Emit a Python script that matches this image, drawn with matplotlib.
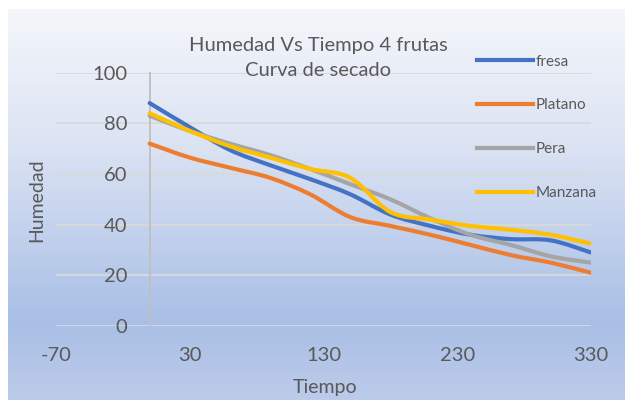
import numpy as np
import matplotlib.pyplot as plt
from matplotlib.path import Path
from matplotlib.patches import PathPatch
from matplotlib.lines import Line2D
from matplotlib.colors import LinearSegmentedColormap

plt.rcParams['font.family'] = ['Lato', 'DejaVu Sans']
plt.rcParams['axes.unicode_minus'] = False

# datos
tiempo = [0, 30, 60, 90, 120, 150, 180, 210, 240, 270, 300, 330]
fresa = [88, 78.5, 69.5, 63.5, 58, 52, 44, 39.5, 36, 34.3, 33.8, 29]
platano = [72, 66.5, 62.5, 58.5, 52, 43, 39.5, 36, 32, 28, 25, 21]
pera = [83, 77, 72, 67.5, 62, 56, 50, 42.5, 36, 32, 27.5, 25]
manzana = [84, 77, 71, 66.5, 62, 58.5, 45, 42, 39.5, 38, 36, 32.5]

series = ['fresa', 'Platano', 'Pera', 'Manzana']
colores = ['#4472C4', '#ED7D31', '#A5A5A5', '#FFC000']
gris = '#595959'


def curva(x, y):
    # suavizado tipo excel (catmull-rom a bezier)
    pts = np.column_stack([x, y]).astype(float)
    ext = np.vstack([pts[0], pts, pts[-1]])
    verts = [pts[0]]
    codes = [Path.MOVETO]
    for i in range(len(pts) - 1):
        p0, p1, p2, p3 = ext[i], ext[i + 1], ext[i + 2], ext[i + 3]
        verts += [p1 + (p2 - p0) / 6, p2 - (p3 - p1) / 6, p2]
        codes += [Path.CURVE4] * 3
    return Path(verts, codes)


fig = plt.figure(figsize=(6.25, 4), dpi=100)
fig.patch.set_facecolor('white')

# fondo degradado
bg = fig.add_axes([8 / 625, 0, 1 - 8 / 625, 1 - 9 / 400])
cmap = LinearSegmentedColormap.from_list('fondo', [
    (0.0, '#f4f6fb'), (0.35, '#dbe3f3'), (0.8, '#a9bfe6'), (1.0, '#bccbea')])
bg.imshow(np.linspace(0, 1, 200).reshape(-1, 1), aspect='auto', cmap=cmap,
          extent=[0, 1, 1, 0])
bg.set_axis_off()

ax = fig.add_axes([56 / 625, 1 - 326 / 400, 535 / 625, 253.3 / 400])
ax.set_facecolor('none')

for datos, c in zip([fresa, platano, pera, manzana], colores):
    ax.add_patch(PathPatch(curva(tiempo, datos), facecolor='none', edgecolor=c,
                           lw=3, capstyle='round', joinstyle='round', zorder=3))

ax.set_xlim(-70, 330)
ax.set_ylim(0, 100)
ax.set_xticks([-70, 30, 130, 230, 330])
ax.set_yticks(range(0, 101, 20))
ax.grid(axis='y', color='#d9d9d9', lw=1.3)
ax.set_axisbelow(True)
for s in ['top', 'right', 'bottom']:
    ax.spines[s].set_visible(False)
ax.spines['left'].set_position(('data', 0))
ax.spines['left'].set_color('#bfbfbf')
ax.spines['left'].set_linewidth(1.3)
ax.tick_params(axis='y', length=0, pad=16, labelsize=14.5, labelcolor=gris)
ax.tick_params(axis='x', length=0, pad=15, labelsize=14.5, labelcolor=gris)

fig.text(318 / 625, 1 - 45 / 400, 'Humedad Vs Tiempo 4 frutas', ha='center',
         va='center', fontsize=14.5, color=gris)
fig.text(318 / 625, 1 - 70 / 400, 'Curva de secado', ha='center',
         va='center', fontsize=14.5, color=gris)
fig.text(37 / 625, 0.5, 'Humedad', rotation=90, ha='center', va='center',
         fontsize=14, color=gris)
fig.text(325 / 625, 1 - 388 / 400, 'Tiempo', ha='center', va='center',
         fontsize=14, color=gris)

handles = [Line2D([], [], color=c, lw=3) for c in colores]
fig.legend(handles, series, loc='upper left',
           bbox_to_anchor=(469 / 625, 1 - 47 / 400), frameon=False,
           fontsize=11, handlelength=3.7, handletextpad=0.15,
           labelspacing=1.95, borderpad=0, labelcolor=gris)

plt.savefig('out.png', dpi=100)
